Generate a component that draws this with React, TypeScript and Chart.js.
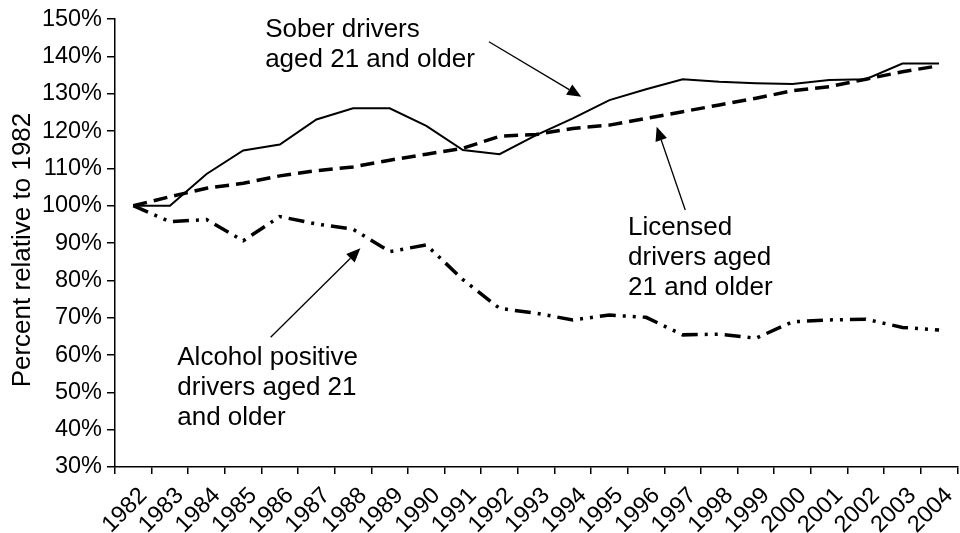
import React, { useEffect, useRef } from 'react';
import { Chart, registerables } from 'chart.js';

Chart.register(...registerables);

const years = ['1982', '1983', '1984', '1985', '1986', '1987', '1988', '1989', '1990', '1991', '1992', '1993', '1994', '1995', '1996', '1997', '1998', '1999', '2000', '2001', '2002', '2003', '2004'];
const soberDrivers = [100, 100, 108.5, 114.8, 116.4, 123.1, 126.1, 126.1, 121.4, 114.9, 113.8, 118.9, 123.4, 128.3, 131.2, 133.9, 133.2, 132.8, 132.6, 133.7, 133.9, 138.1, 138.1];
const licensedDrivers = [100, 102.4, 104.7, 106, 108, 109.4, 110.4, 112.2, 113.8, 115.4, 118.6, 119.1, 120.7, 121.6, 123.4, 125.2, 127, 128.8, 130.8, 131.9, 133.9, 135.9, 137.5];
const alcoholPositive = [100, 95.7, 96.3, 90.6, 97.1, 95.1, 93.7, 87.7, 89.5, 80.2, 72.5, 71.2, 69.4, 70.7, 70.1, 65.4, 65.6, 64.5, 68.9, 69.4, 69.6, 67.4, 66.7];

const yMin = 30;
const yMax = 150;
const yStep = 10;
const yTitle = 'Percent relative to 1982';

// annotation labels (anchored in data space: category index, percent)
const noteSober = ['Sober drivers', 'aged 21 and older'];
const noteLicensed = ['Licensed', 'drivers aged', '21 and older'];
const noteAlcohol = ['Alcohol positive', 'drivers aged 21', 'and older'];

const FONT = "'Liberation Sans', Arial, Helvetica, sans-serif";

const annotationPlugin = {
  id: 'notes',
  afterDraw(chart: any) {
    const { ctx, scales } = chart;
    const xs = scales.x;
    const ys = scales.y;
    const px = (i: number) => xs.getPixelForValue(i);
    const py = (v: number) => ys.getPixelForValue(v);
    ctx.save();
    ctx.fillStyle = '#000';
    ctx.strokeStyle = '#000';
    ctx.font = `26px ${FONT}`;
    ctx.textBaseline = 'alphabetic';
    ctx.textAlign = 'left';
    const texts: [string[], number, number][] = [
      [noteSober, 3.6, 145.2],
      [noteLicensed, 13.51, 92.14],
      [noteAlcohol, 1.2, 57.32],
    ];
    texts.forEach(([lines, xi, yv]) => {
      const x0 = px(xi);
      const y0 = py(yv);
      lines.forEach((l, k) => ctx.fillText(l, x0, y0 + k * 30.2));
    });

    const arrows: [number, number, number, number][] = [
      [9.71, 143.92, 12.23, 129.19],
      [15.07, 98.84, 14.29, 121.15],
      [3.75, 64.74, 6.2, 88.58],
    ];
    arrows.forEach(([ax, ay, bx, by]) => {
      const x1 = px(ax), y1 = py(ay), x2 = px(bx), y2 = py(by);
      const ang = Math.atan2(y2 - y1, x2 - x1);
      const hl = 14, hw = 6;
      const bxp = x2 - hl * Math.cos(ang);
      const byp = y2 - hl * Math.sin(ang);
      ctx.lineWidth = 1.3;
      ctx.beginPath();
      ctx.moveTo(x1, y1);
      ctx.lineTo(bxp, byp);
      ctx.stroke();
      ctx.beginPath();
      ctx.moveTo(x2, y2);
      ctx.lineTo(bxp + hw * Math.sin(ang), byp - hw * Math.cos(ang));
      ctx.lineTo(bxp - hw * Math.sin(ang), byp + hw * Math.cos(ang));
      ctx.closePath();
      ctx.fill();
    });

    // y axis title
    ctx.save();
    ctx.font = `26px ${FONT}`;
    ctx.textAlign = 'center';
    ctx.textBaseline = 'middle';
    ctx.translate(ys.left + 22.5, (ys.top + ys.bottom) / 2 + 7);
    ctx.rotate(-Math.PI / 2);
    ctx.fillText(yTitle, 0, 0);
    ctx.restore();
    ctx.restore();
  },
};

export default function App() {
  const ref = useRef<HTMLCanvasElement>(null);
  useEffect(() => {
    if (!ref.current) return;
    const chart = new Chart(ref.current, {
      type: 'line',
      data: {
        labels: years,
        datasets: [
          {
            label: 'Sober drivers aged 21 and older',
            data: soberDrivers,
            borderColor: '#000',
            borderWidth: 2,
            pointRadius: 0,
            tension: 0,
            fill: false,
          },
          {
            label: 'Licensed drivers aged 21 and older',
            data: licensedDrivers,
            borderColor: '#000',
            borderWidth: 3.5,
            borderDash: [14, 7],
            pointRadius: 0,
            tension: 0,
            fill: false,
          },
          {
            label: 'Alcohol positive drivers aged 21 and older',
            data: alcoholPositive,
            borderColor: '#000',
            borderWidth: 3.5,
            borderDash: [16, 7, 3, 7, 3, 7],
            pointRadius: 0,
            tension: 0,
            fill: false,
          },
        ],
      },
      options: {
        animation: false,
        responsive: true,
        maintainAspectRatio: false,
        layout: { padding: { top: 19, left: 0, right: 0, bottom: 0 } },
        plugins: {
          legend: { display: false },
          tooltip: { enabled: false },
          title: { display: false },
        },
        scales: {
          x: {
            type: 'category',
            offset: true,
            grid: {
              display: true,
              drawOnChartArea: false,
              drawTicks: true,
              tickLength: 7,
              color: '#000',
              lineWidth: 1.5,
              offset: true,
            },
            border: { display: true, color: '#000', width: 1.5 },
            ticks: {
              color: '#000',
              font: { size: 23.5, family: FONT },
              minRotation: 45,
              maxRotation: 45,
              autoSkip: false,
              padding: 8,
              labelOffset: 10,
            },
            afterFit: (s: any) => {
              s.height = 66;
            },
          },
          y: {
            min: yMin,
            max: yMax,
            grid: {
              display: true,
              drawOnChartArea: false,
              drawTicks: true,
              tickLength: 8,
              color: '#000',
              lineWidth: 1.5,
            },
            border: { display: true, color: '#000', width: 1.5 },
            ticks: {
              stepSize: yStep,
              color: '#000',
              font: { size: 23.5, family: FONT },
              padding: 5,
              callback: (v: any) => `${v}%`,
            },
            afterFit: (s: any) => {
              s.width = 115;
            },
          },
        },
      },
      plugins: [annotationPlugin],
    });
    return () => chart.destroy();
  }, []);

  return (
    <div style={{ position: 'absolute', left: 0, top: 0, width: 960, height: 533, overflow: 'hidden', background: '#fff' }}>
      <div style={{ position: 'relative', width: 967, height: 533 }}>
        <canvas ref={ref} />
      </div>
    </div>
  );
}
